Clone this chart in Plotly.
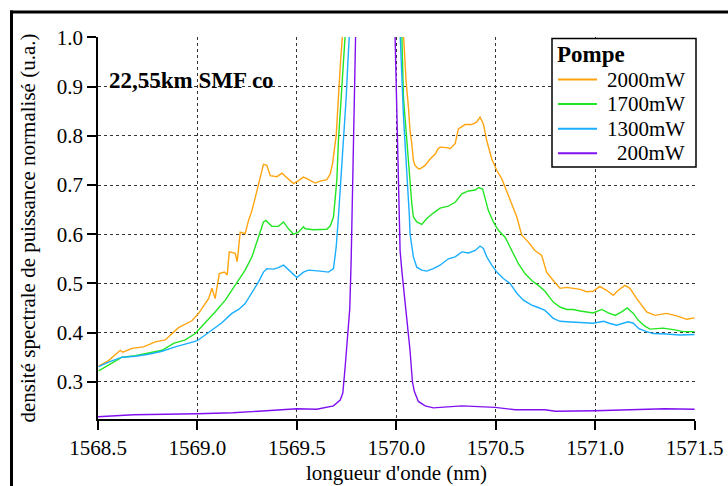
import plotly.graph_objects as go

# ---------------- data ----------------
names = ["2000mW", "1700mW", "1300mW", "200mW"]
colors = ["#FFA40F", "#22E622", "#1AAEFF", "#8010F0"]
legend_title = "Pompe"
annotation_text = "22,55km SMF co"

x_2000 = [1568.503, 1568.553, 1568.612, 1568.625, 1568.671, 1568.729, 1568.788, 1568.838, 1568.905,
          1568.972, 1569.006, 1569.056, 1569.073, 1569.089, 1569.110, 1569.136, 1569.150, 1569.160,
          1569.190, 1569.200, 1569.215, 1569.240, 1569.257, 1569.274, 1569.291, 1569.307, 1569.324,
          1569.332, 1569.349, 1569.366, 1569.400, 1569.425, 1569.450, 1569.483, 1569.508, 1569.533,
          1569.550, 1569.575, 1569.592, 1569.617, 1569.651, 1569.668, 1569.680, 1569.690, 1569.698,
          1569.704, 1569.711, 1569.721, 1569.728, 1569.740, 1569.890, 1570.030, 1570.036, 1570.049,
          1570.061, 1570.069, 1570.078, 1570.086, 1570.094, 1570.111, 1570.120, 1570.145, 1570.170,
          1570.196, 1570.210, 1570.221, 1570.254, 1570.270, 1570.296, 1570.312, 1570.346, 1570.379,
          1570.404, 1570.421, 1570.438, 1570.455, 1570.480, 1570.505, 1570.530, 1570.555, 1570.580,
          1570.606, 1570.631, 1570.664, 1570.697, 1570.731, 1570.745, 1570.756, 1570.789, 1570.823,
          1570.857, 1570.890, 1570.924, 1570.957, 1570.990, 1571.023, 1571.057, 1571.091, 1571.116,
          1571.150, 1571.175, 1571.209, 1571.234, 1571.259, 1571.300, 1571.359, 1571.410, 1571.460,
          1571.500]
y_2000 = [0.332, 0.343, 0.364, 0.360, 0.368, 0.371, 0.381, 0.385, 0.410,
          0.424, 0.439, 0.469, 0.490, 0.469, 0.520, 0.523, 0.517, 0.564,
          0.561, 0.544, 0.604, 0.601, 0.628, 0.648, 0.675, 0.703, 0.730,
          0.742, 0.740, 0.719, 0.717, 0.724, 0.715, 0.703, 0.709, 0.716,
          0.713, 0.708, 0.704, 0.708, 0.711, 0.723, 0.745, 0.777, 0.801,
          0.845, 0.902, 0.959, 0.997, 1.050, 1.600, 1.050, 1.000, 0.912,
          0.858, 0.811, 0.784, 0.750, 0.740, 0.733, 0.733, 0.740, 0.753,
          0.763, 0.774, 0.777, 0.776, 0.774, 0.784, 0.814, 0.823, 0.823,
          0.828, 0.838, 0.824, 0.790, 0.753, 0.730, 0.713, 0.689, 0.662,
          0.635, 0.598, 0.584, 0.567, 0.557, 0.540, 0.523, 0.506, 0.490,
          0.492, 0.490, 0.488, 0.483, 0.484, 0.494, 0.486, 0.476, 0.486,
          0.496, 0.490, 0.469, 0.456, 0.442, 0.435, 0.439, 0.434, 0.427,
          0.430]

x_1700 = [1568.503, 1568.553, 1568.621, 1568.687, 1568.754, 1568.822, 1568.880, 1568.939, 1568.989,
          1569.039, 1569.089, 1569.140, 1569.190, 1569.240, 1569.274, 1569.307, 1569.332, 1569.344,
          1569.374, 1569.407, 1569.433, 1569.458, 1569.483, 1569.508, 1569.533, 1569.542, 1569.584,
          1569.651, 1569.668, 1569.684, 1569.692, 1569.701, 1569.709, 1569.718, 1569.729, 1569.738,
          1569.744, 1569.750, 1569.890, 1570.020, 1570.028, 1570.031, 1570.036, 1570.049, 1570.061,
          1570.069, 1570.078, 1570.086, 1570.103, 1570.128, 1570.153, 1570.186, 1570.220, 1570.262,
          1570.296, 1570.330, 1570.363, 1570.397, 1570.414, 1570.434, 1570.446, 1570.463, 1570.488,
          1570.513, 1570.547, 1570.580, 1570.614, 1570.647, 1570.681, 1570.714, 1570.748, 1570.789,
          1570.823, 1570.857, 1570.890, 1570.924, 1570.957, 1570.990, 1571.033, 1571.066, 1571.100,
          1571.133, 1571.161, 1571.192, 1571.217, 1571.250, 1571.275, 1571.342, 1571.393, 1571.443,
          1571.500]
y_1700 = [0.322, 0.334, 0.350, 0.353, 0.358, 0.364, 0.378, 0.385, 0.398,
          0.419, 0.442, 0.466, 0.496, 0.527, 0.554, 0.594, 0.625, 0.628,
          0.616, 0.616, 0.625, 0.611, 0.600, 0.604, 0.615, 0.611, 0.609,
          0.610, 0.617, 0.635, 0.669, 0.710, 0.790, 0.845, 0.905, 0.973,
          1.000, 1.050, 1.600, 1.050, 1.000, 0.940, 0.878, 0.811, 0.743,
          0.696, 0.662, 0.635, 0.625, 0.620, 0.632, 0.643, 0.653, 0.657,
          0.665, 0.682, 0.688, 0.690, 0.695, 0.692, 0.675, 0.648, 0.625,
          0.608, 0.594, 0.567, 0.540, 0.520, 0.506, 0.496, 0.484, 0.462,
          0.452, 0.447, 0.447, 0.444, 0.442, 0.440, 0.447, 0.440, 0.435,
          0.442, 0.450, 0.439, 0.425, 0.413, 0.407, 0.409, 0.406, 0.402,
          0.402]

x_1300 = [1568.503, 1568.553, 1568.621, 1568.687, 1568.754, 1568.822, 1568.888, 1568.955, 1568.997,
          1569.039, 1569.081, 1569.123, 1569.173, 1569.207, 1569.240, 1569.274, 1569.307, 1569.332,
          1569.349, 1569.382, 1569.407, 1569.433, 1569.458, 1569.483, 1569.500, 1569.533, 1569.559,
          1569.617, 1569.659, 1569.684, 1569.698, 1569.709, 1569.718, 1569.729, 1569.738, 1569.748,
          1569.756, 1569.761, 1569.770, 1569.890, 1570.012, 1570.020, 1570.036, 1570.049, 1570.055,
          1570.066, 1570.069, 1570.086, 1570.103, 1570.128, 1570.153, 1570.186, 1570.220, 1570.262,
          1570.296, 1570.330, 1570.363, 1570.397, 1570.421, 1570.438, 1570.455, 1570.480, 1570.505,
          1570.538, 1570.572, 1570.606, 1570.639, 1570.681, 1570.714, 1570.748, 1570.789, 1570.823,
          1570.857, 1570.890, 1570.924, 1570.957, 1570.990, 1571.044, 1571.070, 1571.108, 1571.140,
          1571.166, 1571.192, 1571.220, 1571.259, 1571.292, 1571.359, 1571.426, 1571.500]
y_1300 = [0.331, 0.340, 0.350, 0.352, 0.356, 0.362, 0.371, 0.378, 0.383,
          0.395, 0.408, 0.420, 0.439, 0.447, 0.459, 0.480, 0.503, 0.523,
          0.530, 0.529, 0.532, 0.537, 0.527, 0.517, 0.512, 0.523, 0.527,
          0.525, 0.523, 0.530, 0.575, 0.635, 0.689, 0.757, 0.817, 0.878,
          0.946, 1.000, 1.050, 1.600, 1.050, 1.000, 0.840, 0.757, 0.709,
          0.635, 0.601, 0.554, 0.533, 0.527, 0.525, 0.530, 0.537, 0.550,
          0.554, 0.564, 0.562, 0.567, 0.576, 0.571, 0.554, 0.537, 0.523,
          0.510, 0.500, 0.480, 0.466, 0.456, 0.451, 0.445, 0.429, 0.423,
          0.422, 0.421, 0.420, 0.419, 0.419, 0.423, 0.419, 0.415, 0.419,
          0.422, 0.419, 0.408, 0.402, 0.398, 0.397, 0.395, 0.396]

x_200 = [1568.500, 1568.679, 1569.000, 1569.179, 1569.347, 1569.500, 1569.600, 1569.684, 1569.718,
         1569.731, 1569.743, 1569.751, 1569.759, 1569.766, 1569.773, 1569.779, 1569.784, 1569.790,
         1569.793, 1569.800, 1569.900, 1569.990, 1569.994, 1570.003, 1570.008, 1570.014, 1570.019,
         1570.028, 1570.040, 1570.055, 1570.069, 1570.081, 1570.091, 1570.111, 1570.145, 1570.186,
         1570.254, 1570.330, 1570.497, 1570.598, 1570.748, 1570.800, 1571.000, 1571.200, 1571.350,
         1571.500]
y_200 = [0.229, 0.233, 0.235, 0.237, 0.241, 0.245, 0.244, 0.251, 0.263,
         0.277, 0.331, 0.371, 0.398, 0.449, 0.547, 0.669, 0.757, 0.878,
         1.000, 1.100, 1.600, 1.100, 1.000, 0.845, 0.743, 0.640, 0.567,
         0.525, 0.480, 0.420, 0.364, 0.300, 0.280, 0.260, 0.251, 0.247,
         0.249, 0.251, 0.248, 0.243, 0.243, 0.240, 0.241, 0.243, 0.245,
         0.244]

x_ticks = [1568.5, 1569.0, 1569.5, 1570.0, 1570.5, 1571.0, 1571.5]
y_ticks = [0.3, 0.4, 0.5, 0.6, 0.7, 0.8, 0.9, 1.0]

series_x = [x_2000, x_1700, x_1300, x_200]
series_y = [y_2000, y_1700, y_1300, y_200]

FONT = "Liberation Serif"

# plot-area geometry (pixels) used to place paper-referenced decorations
W, H = 728, 486
ML, MR, MT, MB = 98, 33, 37, 67
PW, PH = W - ML - MR, H - MT - MB


def px_x(px):
    return (px - ML) / PW


def px_y(py):
    return (H - MB - py) / PH


fig = go.Figure()
for name, col, xs, ys in zip(names, colors, series_x, series_y):
    fig.add_trace(go.Scatter(x=xs, y=ys, mode="lines", name=name, showlegend=False,
                             line=dict(color=col, width=1.4)))

axis_common = dict(
    showline=True, linecolor="black", linewidth=1.5,
    ticks="outside", ticklen=9, tickwidth=1.5, tickcolor="black",
    showgrid=True, gridcolor="#333333", gridwidth=1, griddash="dot",
    zeroline=False, tickfont=dict(family=FONT, size=21, color="black"),
    mirror=False, automargin=False,
)

fig.update_layout(
    width=W, height=H,
    margin=dict(l=ML, r=MR, t=MT, b=MB, autoexpand=False),
    paper_bgcolor="white", plot_bgcolor="white",
    font=dict(family=FONT, size=21, color="black"),
    xaxis=dict(range=[1568.5, 1571.502], tickvals=x_ticks,
               ticktext=[f"{v:.1f}" for v in x_ticks],
               title=dict(text="longueur d'onde (nm)", standoff=6,
                          font=dict(family=FONT, size=21)),
               **axis_common),
    yaxis=dict(range=[0.2243, 1.001], tickvals=y_ticks,
               ticktext=[f"{v:.1f}" for v in y_ticks],
               title=dict(text="densité spectrale de puissance normalisé (u.a.)", standoff=15,
                          font=dict(family=FONT, size=21)),
               **axis_common),
    showlegend=False,
)

fig.add_annotation(text=f"<b>{annotation_text}</b>", xref="paper", yref="paper",
                   x=px_x(107), y=px_y(80), xanchor="left", yanchor="middle",
                   showarrow=False, font=dict(family=FONT, size=23, color="black"))

# ---- legend box drawn by hand (right-aligned labels as in the original) ----
fig.add_shape(type="rect", xref="paper", yref="paper",
              x0=px_x(552), x1=px_x(696), y0=px_y(167), y1=px_y(38.5),
              line=dict(color="black", width=1.5), fillcolor="white", layer="above")
fig.add_annotation(text=f"<b>{legend_title}</b>", xref="paper", yref="paper",
                   x=px_x(555), y=px_y(54), xanchor="left", yanchor="middle",
                   showarrow=False, font=dict(family=FONT, size=23, color="black"))
for i, (name, col) in enumerate(zip(names, colors)):
    ypx = 79.5 + i * 24.6
    fig.add_shape(type="line", xref="paper", yref="paper",
                  x0=px_x(558), x1=px_x(597), y0=px_y(ypx), y1=px_y(ypx),
                  line=dict(color=col, width=2), layer="above")
    fig.add_annotation(text=name, xref="paper", yref="paper",
                       x=px_x(687), y=px_y(ypx), xanchor="right", yanchor="middle",
                       showarrow=False, font=dict(family=FONT, size=21, color="black"))

# frame around the whole figure (top and left edges are the visible ones)
fig.add_shape(type="rect", xref="paper", yref="paper",
              x0=px_x(10), x1=px_x(740), y0=px_y(13.5), y1=px_y(10.5),
              line=dict(width=0), fillcolor="black", layer="above")
fig.add_shape(type="rect", xref="paper", yref="paper",
              x0=px_x(10), x1=px_x(13), y0=px_y(500), y1=px_y(10.5),
              line=dict(width=0), fillcolor="black", layer="above")

fig.write_html("out.html",
               config={"displayModeBar": False},
               post_script="document.body.style.margin='0';document.body.style.overflow='hidden';")
